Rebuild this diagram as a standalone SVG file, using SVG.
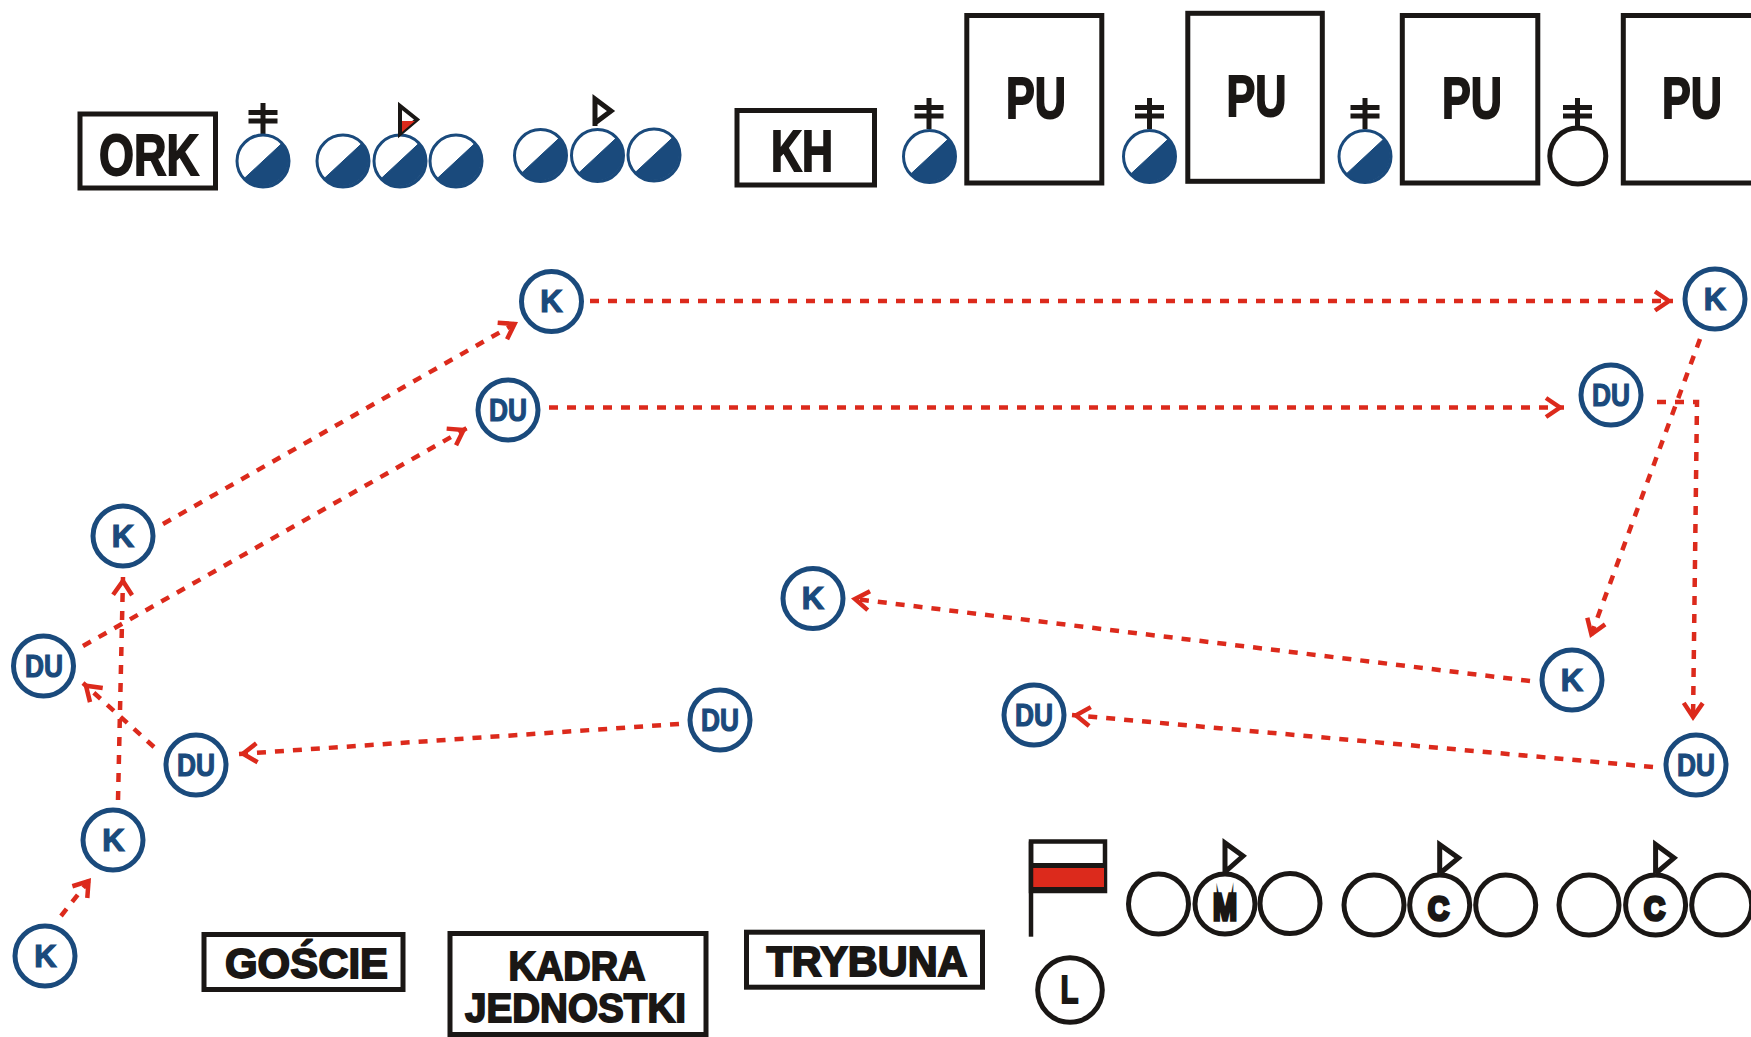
<svg xmlns="http://www.w3.org/2000/svg" xmlns:xlink="http://www.w3.org/1999/xlink" width="1751" height="1037" viewBox="0 0 1751 1037">
<style>
text{font-family:"Liberation Sans",Arial,sans-serif;font-weight:700;text-anchor:middle}
.box{fill:#fff;stroke:#1a1715;stroke-width:5}
.blk{fill:#1a1715;stroke:#1a1715;stroke-width:1.800}
.unit{fill:#fff;stroke:#1a4a7c;stroke-width:5}
.lbl{fill:#1a4a7c;stroke:#1a4a7c;stroke-width:1.200;font-size:31px}
.open{fill:#fff;stroke:#1a1715;stroke-width:5}
.flag{fill:#fff;stroke:#1a1715;stroke-width:5;stroke-linejoin:miter}
.conn{fill:none;stroke:#dc2a1c;stroke-width:4.500;stroke-dasharray:9 9;marker-end:url(#ah)}
</style>
<defs>
<marker id="ah" markerUnits="userSpaceOnUse" markerWidth="34" markerHeight="34" refX="29" refY="15" orient="auto" overflow="visible">
<path d="M11,5.500 L25,15 L11,24.500" fill="none" stroke="#dc2a1c" stroke-width="4.500"/>
</marker>
<g id="half">
<circle r="26" fill="#fff" stroke="#1a4a7c" stroke-width="3"/>
<path d="M19,-17.700 A26,26 0 0 1 -19,17.700 Z" fill="#1a4a7c" stroke="#1a4a7c" stroke-width="1"/>
</g>
<g id="cross">
<path d="M0,-31 V0 M-14.5,-21.500 H14.500 M-14.5,-13 H14.500" fill="none" stroke="#1a1715" stroke-width="5"/>
</g>
<circle id="ring" r="30" class="open"/>
<circle id="u" r="30" class="unit"/>
</defs>

<g id="connectors">
<path class="conn" d="M590,301 H1673"/>
<path class="conn" d="M549,407.500 H1564"/>
<path class="conn" d="M163,524 L518,322"/>
<path class="conn" d="M83,646 L467,428"/>
<path class="conn" d="M118,800 L123,577"/>
<path class="conn" d="M154,747 L83,683"/>
<path class="conn" d="M61,916 L91,878"/>
<path class="conn" d="M679,724 L239,754"/>
<path class="conn" d="M1700,339 L1590,638"/>
<path class="conn" d="M1657,402 H1697 L1693,721"/>
<path class="conn" d="M1530,681 L851,598.500"/>
<path class="conn" d="M1653,767 L1072,715"/>
</g>

<g id="ork"><rect class="box" x="80" y="114" width="135.500" height="74"/><text class="blk" x="149" y="175" font-size="58" textLength="100" lengthAdjust="spacingAndGlyphs">ORK</text></g>
<g id="ork-1"><use xlink:href="#cross" href="#cross" x="263" y="134"/><use xlink:href="#half" href="#half" x="263" y="161"/></g>
<g id="ork-2">
<use xlink:href="#half" href="#half" x="343" y="161"/><use xlink:href="#half" href="#half" x="400" y="161"/><use xlink:href="#half" href="#half" x="456" y="161"/>
<path class="flag" style="stroke-width:4" d="M400,134 V106 L417,119.500 Z"/>
<path d="M402,121 H415 L402,132 Z" fill="#dc2a1c"/>
</g>
<g id="ork-3">
<use xlink:href="#half" href="#half" x="540.500" y="155.500"/><use xlink:href="#half" href="#half" x="597.500" y="155.500"/><use xlink:href="#half" href="#half" x="654" y="155"/>
<path class="flag" d="M595,126 V99 L611,111 L595,123"/>
</g>

<g id="kh"><rect class="box" x="737" y="110.500" width="137.500" height="74.500"/><text class="blk" x="802" y="171" font-size="58" textLength="62" lengthAdjust="spacingAndGlyphs">KH</text></g>
<g id="kh-1"><use xlink:href="#cross" href="#cross" x="929" y="129"/><use xlink:href="#half" href="#half" x="929.500" y="156.500"/></g>
<g id="pu-1"><rect class="box" x="966.800" y="15.500" width="135" height="167.500"/><text class="blk" x="1036" y="118.300" font-size="57" textLength="60" lengthAdjust="spacingAndGlyphs">PU</text></g>
<g id="kh-2"><use xlink:href="#cross" href="#cross" x="1149.500" y="129"/><use xlink:href="#half" href="#half" x="1149.500" y="156.500"/></g>
<g id="pu-2"><rect class="box" x="1187.800" y="13.300" width="134.500" height="168"/><text class="blk" x="1256.500" y="115.700" font-size="57" textLength="60" lengthAdjust="spacingAndGlyphs">PU</text></g>
<g id="kh-3"><use xlink:href="#cross" href="#cross" x="1365" y="129"/><use xlink:href="#half" href="#half" x="1365" y="156.500"/></g>
<g id="pu-3"><rect class="box" x="1402.300" y="15.500" width="135.500" height="167.500"/><text class="blk" x="1472" y="118.300" font-size="57" textLength="60" lengthAdjust="spacingAndGlyphs">PU</text></g>
<g id="kh-4"><use xlink:href="#cross" href="#cross" x="1577.500" y="129"/><circle class="open" cx="1577.800" cy="156" r="28"/></g>
<g id="pu-4"><rect class="box" x="1623.300" y="15.500" width="150" height="167.500"/><text class="blk" x="1692" y="118.300" font-size="57" textLength="60" lengthAdjust="spacingAndGlyphs">PU</text></g>

<g id="n-k-a"><use xlink:href="#u" href="#u" x="551.500" y="301.500"/><text class="lbl" x="551.500" y="312">K</text></g>
<g id="n-du-a"><use xlink:href="#u" href="#u" x="508" y="410"/><text class="lbl" x="508" y="421" textLength="38" lengthAdjust="spacingAndGlyphs">DU</text></g>
<g id="n-k-b"><use xlink:href="#u" href="#u" x="123" y="536"/><text class="lbl" x="123" y="546.500">K</text></g>
<g id="n-du-b"><use xlink:href="#u" href="#u" x="43.500" y="666"/><text class="lbl" x="44" y="677" textLength="38" lengthAdjust="spacingAndGlyphs">DU</text></g>
<g id="n-du-c"><use xlink:href="#u" href="#u" x="196" y="765"/><text class="lbl" x="196" y="776" textLength="38" lengthAdjust="spacingAndGlyphs">DU</text></g>
<g id="n-k-c"><use xlink:href="#u" href="#u" x="113" y="840"/><text class="lbl" x="113.500" y="850.500">K</text></g>
<g id="n-k-d"><use xlink:href="#u" href="#u" x="45" y="956"/><text class="lbl" x="45.500" y="966.500">K</text></g>
<g id="n-du-d"><use xlink:href="#u" href="#u" x="720" y="720"/><text class="lbl" x="720" y="731" textLength="38" lengthAdjust="spacingAndGlyphs">DU</text></g>
<g id="n-k-e"><use xlink:href="#u" href="#u" x="813" y="598.500"/><text class="lbl" x="813" y="609">K</text></g>
<g id="n-du-e"><use xlink:href="#u" href="#u" x="1034" y="715"/><text class="lbl" x="1034" y="726" textLength="38" lengthAdjust="spacingAndGlyphs">DU</text></g>
<g id="n-k-f"><use xlink:href="#u" href="#u" x="1572" y="680"/><text class="lbl" x="1572" y="690.500">K</text></g>
<g id="n-du-f"><use xlink:href="#u" href="#u" x="1696" y="765"/><text class="lbl" x="1696" y="776" textLength="38" lengthAdjust="spacingAndGlyphs">DU</text></g>
<g id="n-k-g"><use xlink:href="#u" href="#u" x="1715" y="299"/><text class="lbl" x="1715" y="309.500">K</text></g>
<g id="n-du-g"><use xlink:href="#u" href="#u" x="1611" y="395"/><text class="lbl" x="1611" y="406" textLength="38" lengthAdjust="spacingAndGlyphs">DU</text></g>

<g id="goscie"><rect class="box" x="204" y="934.500" width="199" height="55"/><text class="blk" x="306.500" y="978" font-size="43" textLength="163" lengthAdjust="spacingAndGlyphs">GOŚCIE</text></g>
<g id="kadra"><rect class="box" x="450" y="933.500" width="256" height="101"/><text class="blk" x="577" y="979.500" font-size="40" textLength="137" lengthAdjust="spacingAndGlyphs">KADRA</text><text class="blk" x="575.500" y="1021.800" font-size="40" textLength="221" lengthAdjust="spacingAndGlyphs">JEDNOSTKI</text></g>
<g id="trybuna"><rect class="box" x="746.500" y="932.200" width="236" height="55"/><text class="blk" x="867" y="975.700" font-size="42" textLength="201" lengthAdjust="spacingAndGlyphs">TRYBUNA</text></g>

<g id="banner">
<rect x="1031" y="841.500" width="74" height="49.500" fill="#fff" stroke="#1a1715" stroke-width="4.500"/>
<rect x="1032" y="868" width="72" height="21" fill="#dc2a1c"/>
<path d="M1031,865.500 H1105 M1031,889.500 H1105" stroke="#1a1715" stroke-width="5" fill="none"/>
<path d="M1031,841.500 V936.700" stroke="#1a1715" stroke-width="4.500" fill="none"/>
</g>
<g id="l"><circle class="open" cx="1070" cy="990" r="32.300"/><text class="blk" x="1069.500" y="1003.300" font-size="39" textLength="18" lengthAdjust="spacingAndGlyphs">L</text></g>
<g id="group-m">
<use xlink:href="#ring" href="#ring" x="1158.500" y="904"/><use xlink:href="#ring" href="#ring" x="1225" y="904"/><use xlink:href="#ring" href="#ring" x="1290" y="903.500"/>
<path class="flag" d="M1225,872 V843 L1243,856 L1225,872"/>
<text class="blk" x="1225" y="920" font-size="36" textLength="24" lengthAdjust="spacingAndGlyphs" style="stroke-width:3.500px;stroke-miterlimit:10">M</text>
</g>
<g id="group-c1">
<use xlink:href="#ring" href="#ring" x="1374" y="905"/><use xlink:href="#ring" href="#ring" x="1439.700" y="905"/><use xlink:href="#ring" href="#ring" x="1505.700" y="905"/>
<path class="flag" d="M1439.700,873.500 V844.500 L1458.500,858 L1439.700,873.500"/>
<text class="blk" x="1438.500" y="919.500" font-size="33" textLength="21" lengthAdjust="spacingAndGlyphs" style="stroke-width:3.500px">C</text>
</g>
<g id="group-c2">
<use xlink:href="#ring" href="#ring" x="1589" y="905"/><use xlink:href="#ring" href="#ring" x="1655.600" y="905"/><use xlink:href="#ring" href="#ring" x="1721.700" y="905"/>
<path class="flag" d="M1655.600,873.500 V844.500 L1674,858 L1655.600,873.500"/>
<text class="blk" x="1654.500" y="919.500" font-size="33" textLength="21" lengthAdjust="spacingAndGlyphs" style="stroke-width:3.500px">C</text>
</g>
</svg>
